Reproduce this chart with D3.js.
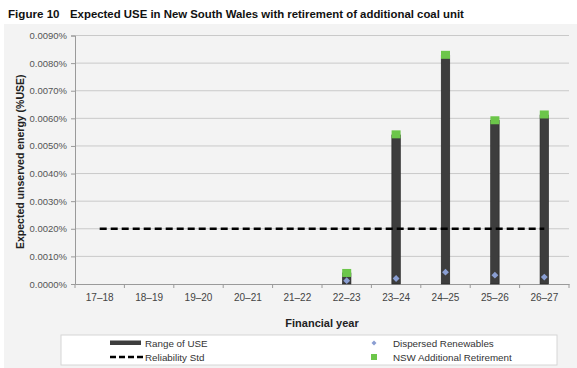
<!DOCTYPE html>
<html>
<head>
<meta charset="utf-8">
<script src="https://cdn.jsdelivr.net/npm/d3@7"></script>
<style>
  body { margin: 0; background: #fff; }
  svg { display: block; font-family: "Liberation Sans", Arial, sans-serif; }
</style>
</head>
<body>
<svg id="chart" width="577" height="368"></svg>
<script>
// data (values in %USE)
var YEARS = ["17\u201318", "18\u201319", "19\u201320", "20\u201321", "21\u201322", "22\u201323", "23\u201324", "24\u201325", "25\u201326", "26\u201327"];
var RANGE_LOW = [null, null, null, null, null, 0, 0, 0, 0, 0];
var RANGE_HIGH = [null, null, null, null, null, 0.00040, 0.00540, 0.00828, 0.00592, 0.00612];
var DISPERSED = [null, null, null, null, null, 0.00012, 0.00020, 0.00043, 0.00032, 0.00025];
var NSW_RETIRE = [null, null, null, null, null, 0.00040, 0.00542, 0.00830, 0.00593, 0.00614];
var RELIABILITY = [0.002, 0.002, 0.002, 0.002, 0.002, 0.002, 0.002, 0.002, 0.002, 0.002];
var Y_TICKS = [0, 0.001, 0.002, 0.003, 0.004, 0.005, 0.006, 0.007, 0.008, 0.009];

var W = 577, H = 368;
var PLOT = {left: 75, right: 569, top: 35.5, bottom: 284};

var svg = d3.select("#chart");

// grey panel behind the chart
svg.append("rect")
    .attr("x", 4).attr("y", 24)
    .attr("width", W - 4).attr("height", H - 24)
    .attr("fill", "#f3f3f3");

svg.append("text")
    .attr("x", 8).attr("y", 17.5)
    .attr("font-size", 11.6).attr("font-weight", "bold").attr("fill", "#111")
    .text("Figure 10");
svg.append("text")
    .attr("x", 70).attr("y", 17.5)
    .attr("font-size", 11.4).attr("font-weight", "bold").attr("fill", "#111")
    .text("Expected USE in New South Wales with retirement of additional coal unit");

var xScale = d3.scaleBand()
    .domain(YEARS)
    .range([PLOT.left, PLOT.right]);

var yScale = d3.scaleLinear()
    .domain([0, 0.009])
    .range([PLOT.bottom, PLOT.top]);

// gridlines
svg.append("g")
    .selectAll("line")
    .data(Y_TICKS.slice(1))
    .join("line")
    .attr("x1", PLOT.left).attr("x2", PLOT.right)
    .attr("y1", d => yScale(d)).attr("y2", d => yScale(d))
    .attr("stroke", "#c9c9c9").attr("stroke-width", 1);

// y axis
var yAxis = d3.axisLeft(yScale)
    .tickValues(Y_TICKS)
    .tickFormat(d => d.toFixed(4) + "%")
    .tickSize(4)
    .tickPadding(4);
var gy = svg.append("g")
    .attr("transform", `translate(${PLOT.left},0)`)
    .call(yAxis);
gy.select(".domain").attr("stroke", "#9a9a9a");
gy.selectAll(".tick line").attr("stroke", "#9a9a9a");
gy.selectAll("text")
    .attr("font-size", 9.5).attr("fill", "#555")
    .attr("font-family", "Liberation Sans, Arial, sans-serif");

// x axis with ticks on the category boundaries
var xAxis = d3.axisBottom(xScale).tickSize(0).tickPadding(10);
var gx = svg.append("g")
    .attr("transform", `translate(0,${PLOT.bottom})`)
    .call(xAxis);
gx.select(".domain").attr("stroke", "#9a9a9a");
gx.selectAll("text")
    .attr("font-size", 10).attr("fill", "#444")
    .attr("font-family", "Liberation Sans, Arial, sans-serif");
gx.selectAll(".bound")
    .data(YEARS)
    .join("line")
    .attr("class", "bound")
    .attr("x1", d => xScale(d) + xScale.bandwidth())
    .attr("x2", d => xScale(d) + xScale.bandwidth())
    .attr("y1", 0).attr("y2", 4)
    .attr("stroke", "#9a9a9a");
gx.append("line")
    .attr("x1", PLOT.left).attr("x2", PLOT.left)
    .attr("y1", 0).attr("y2", 4)
    .attr("stroke", "#9a9a9a");

// axis titles
svg.append("text")
    .attr("transform", `translate(24,${(PLOT.top + PLOT.bottom) / 2 + 2}) rotate(-90)`)
    .attr("text-anchor", "middle")
    .attr("font-size", 10.5).attr("font-weight", "bold").attr("fill", "#222")
    .text("Expected unserved energy (%USE)");
svg.append("text")
    .attr("x", 322).attr("y", 327)
    .attr("text-anchor", "middle")
    .attr("font-size", 11).attr("font-weight", "bold").attr("fill", "#222")
    .text("Financial year");

var cx = d => xScale(d) + xScale.bandwidth() / 2;
var BAR_W = 8.5;

// range of USE bars
var bars = YEARS.map((y, i) => ({y: y, lo: RANGE_LOW[i], hi: RANGE_HIGH[i]}))
    .filter(d => d.hi != null);
svg.append("g")
    .selectAll("rect")
    .data(bars)
    .join("rect")
    .attr("x", d => cx(d.y) - BAR_W / 2)
    .attr("width", BAR_W)
    .attr("y", d => yScale(d.hi))
    .attr("height", d => yScale(d.lo) - yScale(d.hi))
    .attr("fill", "#3d3d3d")
    .attr("stroke", "#222").attr("stroke-width", 0.6);

// reliability standard
var relLine = d3.line()
    .x((d, i) => cx(YEARS[i]))
    .y(d => yScale(d));
svg.append("path")
    .datum(RELIABILITY)
    .attr("d", relLine)
    .attr("fill", "none")
    .attr("stroke", "#000").attr("stroke-width", 2.4)
    .attr("stroke-dasharray", "7,4");

// NSW additional retirement squares
var green = YEARS.map((y, i) => ({y: y, v: NSW_RETIRE[i]})).filter(d => d.v != null);
svg.append("g")
    .selectAll("rect")
    .data(green)
    .join("rect")
    .attr("x", d => cx(d.y) - 4.5)
    .attr("y", d => yScale(d.v) - 4)
    .attr("width", 9).attr("height", 8)
    .attr("fill", "#6cc64a");

// dispersed renewables diamonds
var blue = YEARS.map((y, i) => ({y: y, v: DISPERSED[i]})).filter(d => d.v != null);
svg.append("g")
    .selectAll("path")
    .data(blue)
    .join("path")
    .attr("d", d3.symbol().type(d3.symbolDiamond2).size(30))
    .attr("transform", d => `translate(${cx(d.y)},${yScale(d.v)})`)
    .attr("fill", "#8a9ed2");

// legend
var lg = svg.append("g");
lg.append("rect")
    .attr("x", 61).attr("y", 335)
    .attr("width", 496).attr("height", 30)
    .attr("fill", "#fff").attr("stroke", "#d6d6d6");
lg.append("rect")
    .attr("x", 110).attr("y", 340.5)
    .attr("width", 31).attr("height", 4.5)
    .attr("fill", "#3d3d3d");
lg.append("line")
    .attr("x1", 110).attr("x2", 143)
    .attr("y1", 357).attr("y2", 357)
    .attr("stroke", "#000").attr("stroke-width", 2.4)
    .attr("stroke-dasharray", "6,3");
lg.append("path")
    .attr("d", d3.symbol().type(d3.symbolDiamond2).size(16))
    .attr("transform", "translate(374,343)")
    .attr("fill", "#8a9ed2");
lg.append("rect")
    .attr("x", 371).attr("y", 354)
    .attr("width", 6).attr("height", 6)
    .attr("fill", "#6cc64a");
var legendText = [
    {x: 145, y: 346.5, t: "Range of USE"},
    {x: 145, y: 361, t: "Reliability Std"},
    {x: 393, y: 346.5, t: "Dispersed Renewables"},
    {x: 393, y: 361, t: "NSW Additional Retirement"}
];
lg.selectAll("text.lt")
    .data(legendText)
    .join("text")
    .attr("class", "lt")
    .attr("x", d => d.x).attr("y", d => d.y)
    .attr("font-size", 9.8).attr("fill", "#333")
    .text(d => d.t);
</script>
</body>
</html>
